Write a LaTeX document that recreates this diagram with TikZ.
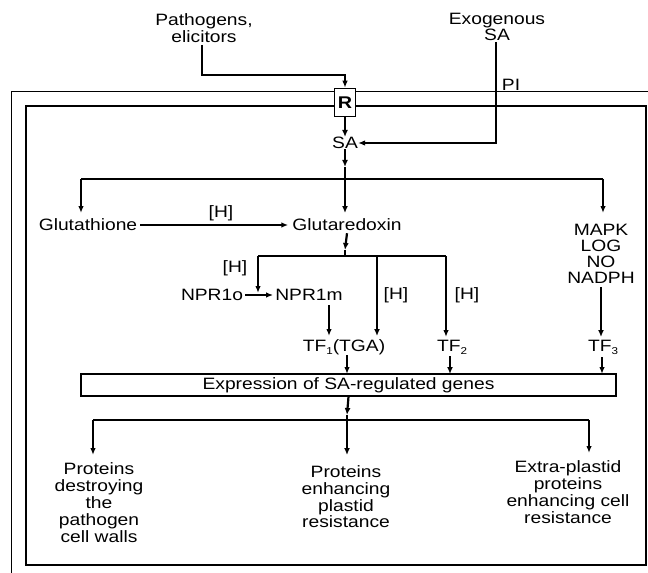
\documentclass[tikz,border=0pt]{standalone}
\usepackage{fontspec}
\setmainfont{Liberation Sans}[FakeStretch=1.17]
\usetikzlibrary{arrows.meta,calc}
\newcommand\lowsub[1]{\raisebox{-3bp}{\fontsize{10}{10}\selectfont #1}}
\begin{document}
\begin{tikzpicture}[x=1bp,y=-1bp,
  lbl/.style={inner sep=0pt, align=center, font=\fontsize{16.5}{16.5}\selectfont},
  conn/.style={line width=1.5bp, -{Latex[length=7bp,width=5.5bp]}},
  thickconn/.style={line width=2.2bp, -{Latex[length=7bp,width=6bp]}},
  plain/.style={line width=1.6bp},
  frameout/.style={line width=0.8bp},
  framein/.style={line width=2bp}]
\useasboundingbox (0,0) rectangle (648,573);
% frames
\draw[frameout] (648,91) -- (11,91) -- (11,573);
\draw[framein] (26,106) rectangle (646,565);
% top labels
\node[lbl] (path) at (204,28) {Pathogens,\\elicitors};
\node[lbl] (exo) at (497,27) {Exogenous\\SA};
\node[lbl] (pi) at (511,85) {PI};
% R box
\node[draw, line width=1.5bp, fill=white, minimum width=21bp, minimum height=28bp, inner sep=0pt, font=\fontsize{17}{17}\selectfont\bfseries] (R) at (345,102.5) {R};
\node[lbl] (SA) at (345,143) {SA};
\draw[conn] (202,45) |- (345,75) -- (R.north);
\draw[conn] (496,42) |- (SA.east);
\draw[thickconn] (R.south) -- (SA.north);
% SA branch
\coordinate (b1) at (345,179);
\coordinate (sat) at (345,167);
\draw[thickconn] (SA.south) -- (sat);
\draw[plain] (sat) -- (b1);
\coordinate (bl) at (81,179);
\coordinate (br) at (603,179);
\draw[plain] (bl) -- (br);
\node[lbl] (gth) at (88,225) {Glutathione};
\node[lbl] (grx) at (347,225) {Glutaredoxin};
\node[lbl, font=\fontsize{16.5}{16}\selectfont] (mapk) at (601,254) {MAPK\\LOG\\NO\\NADPH};
\draw[conn] (bl) -- (81,213);
\draw[thickconn] (b1) -- (345,213);
\draw[conn] (br) -- (603,213);
\draw[conn] ($(gth.east)+(3,0)$) -- ($(grx.west)+(-4,0)$);
\node[lbl] (h1) at (221,213) {[H]};
% glutaredoxin branch
\coordinate (g1) at (345,256);
\coordinate (gt) at (345,250);
\draw[thickconn] ($(grx.south)+(0,2)$) -- (gt);
\draw[plain] (gt) -- (g1);
\draw[plain] (258,256) -- (446,256);
\node[lbl] (npro) at (212,295) {NPR1o};
\node[lbl] (nprm) at (309,295) {NPR1m};
\node[lbl] (h2) at (235,268) {[H]};
\node[lbl] (h3) at (396,295) {[H]};
\node[lbl] (h4) at (467,295) {[H]};
\draw[conn] ($(npro.east)+(2,0)$) -- ($(nprm.west)+(-2,0)$);
\draw[conn] (258,256) -- (258,293);
\node[lbl] (tf1) at (344,347) {TF\lowsub{1}(TGA)};
\node[lbl] (tf2) at (452,347) {TF\lowsub{2}};
\node[lbl] (tf3) at (603,347) {TF\lowsub{3}};
\draw[conn] (329,305) -- (329,336);
\draw[thickconn] (377,256) -- (377,336);
\draw[conn] (446,256) -- (446,337);
\draw[thickconn] ($(mapk.south)+(0,3)$) -- (601,337);
% expression box
\node[draw, line width=1.2bp, minimum width=535bp, minimum height=22bp, inner sep=0pt, lbl] (expr) at (348.5,385) {Expression of SA-regulated genes};
\draw[conn] (347,355) -- (347,374);
\draw[thickconn] (450,356) -- (450,374);
\draw[conn] (602,357) -- (602,374);
% bottom branch
\coordinate (e1) at (347,420);
\coordinate (et) at (347,415);
\draw[thickconn] (expr.south) -- (et);
\draw[plain] (et) -- (e1);
\draw[plain] (93,420) -- (589,420);
\draw[conn] (93,420) -- (93,455);
\draw[thickconn] (e1) -- (347,455);
\draw[conn] (589,420) -- (589,453);
\node[lbl, font=\fontsize{16.5}{17.2}\selectfont] (o1) at (99,502.5) {Proteins\\destroying\\the\\pathogen\\cell walls};
\node[lbl, font=\fontsize{16.5}{16.8}\selectfont] (o2) at (346,497) {Proteins\\enhancing\\plastid\\resistance};
\node[lbl, font=\fontsize{16.5}{17}\selectfont] (o3) at (568,492.5) {Extra-plastid\\proteins\\enhancing cell\\resistance};
\end{tikzpicture}
\end{document}
